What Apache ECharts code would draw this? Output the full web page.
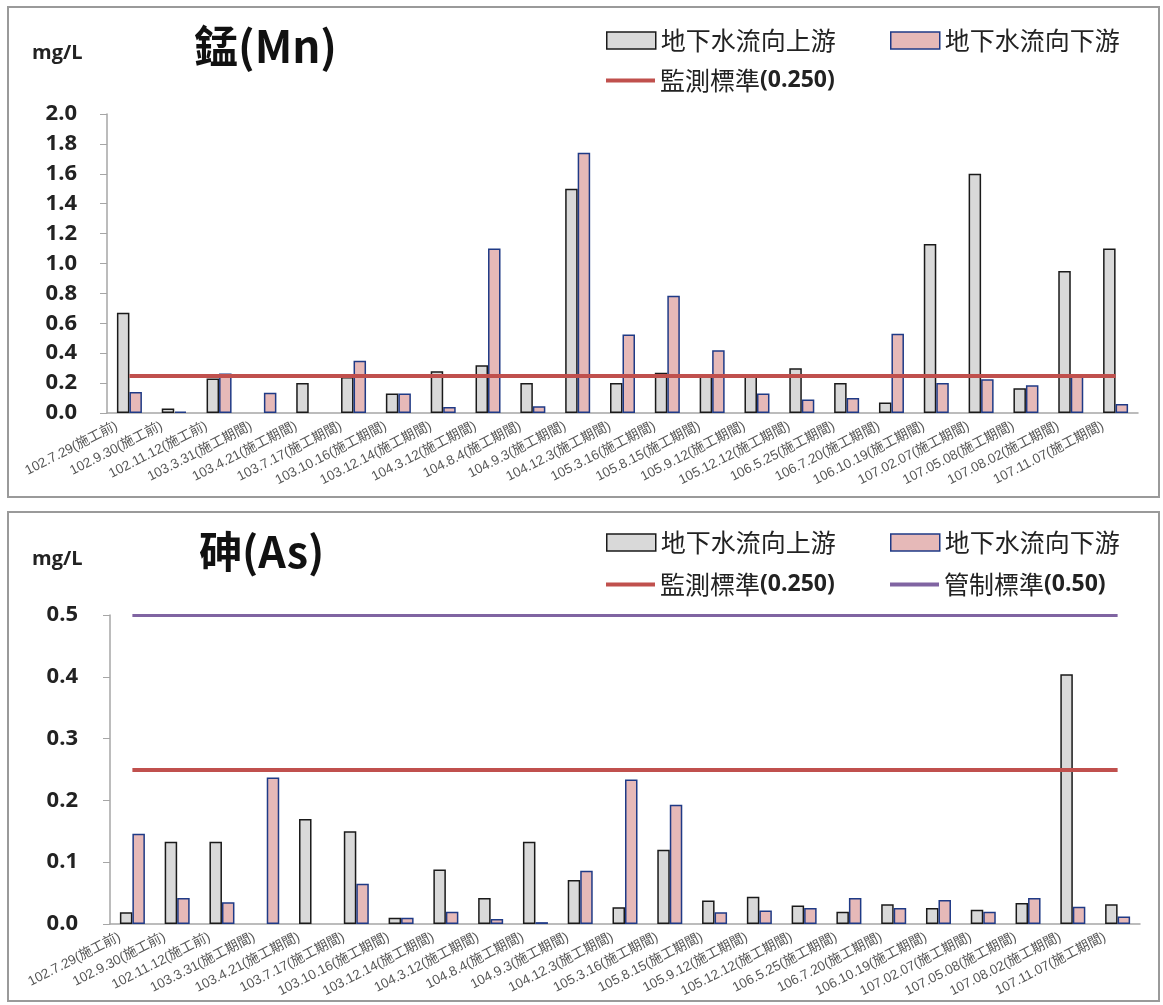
<!DOCTYPE html>
<html>
<head>
<meta charset="utf-8">
<script src="https://cdn.jsdelivr.net/npm/echarts@6/dist/echarts.min.js"></script>
<style>
  html, body { margin: 0; padding: 0; background: #fff; }
  #chart { width: 1163px; height: 1005px; }
</style>
</head>
<body>
<div id="chart"></div>
<script>
// sampling dates (same for both panels)
var categories = [
  '102.7.29(施工前)', '102.9.30(施工前)', '102.11.12(施工前)',
  '103.3.31(施工期間)', '103.4.21(施工期間)', '103.7.17(施工期間)',
  '103.10.16(施工期間)', '103.12.14(施工期間)', '104.3.12(施工期間)',
  '104.8.4(施工期間)', '104.9.3(施工期間)', '104.12.3(施工期間)',
  '105.3.16(施工期間)', '105.8.15(施工期間)', '105.9.12(施工期間)',
  '105.12.12(施工期間)', '106.5.25(施工期間)', '106.7.20(施工期間)',
  '106.10.19(施工期間)', '107.02.07(施工期間)', '107.05.08(施工期間)',
  '107.08.02(施工期間)', '107.11.07(施工期間)'
]

// 錳 (Mn) mg/L
var mnUpstream = [0.67, 0.03, 0.23, null, 0.20, 0.24, 0.13, 0.28, 0.32, 0.20, 1.50, 0.20,
  0.27, 0.245, 0.255, 0.30, 0.20, 0.07, 1.13, 1.60, 0.165, 0.95, 1.10]
var mnDownstream = [0.14, 0.01, 0.265, 0.135, null, 0.35, 0.13, 0.04, 1.10, 0.045, 1.74, 0.525,
  0.785, 0.42, 0.13, 0.09, 0.10, 0.53, 0.20, 0.225, 0.185, 0.245, 0.06]
var mnMonitorStd = 0.25

// 砷 (As) mg/L
var asUpstream = [0.019, 0.133, 0.133, null, 0.17, 0.15, 0.01, 0.088, 0.042, 0.133, 0.071, 0.027,
  0.12, 0.038, 0.044, 0.03, 0.02, 0.032, 0.026, 0.023, 0.034, 0.404, 0.032]
var asDownstream = [0.146, 0.042, 0.035, 0.237, null, 0.065, 0.01, 0.02, 0.008, 0.003, 0.086, 0.234,
  0.193, 0.019, 0.022, 0.026, 0.042, 0.026, 0.039, 0.02, 0.042, 0.028, 0.012]
var asMonitorStd = 0.25
var asControlStd = 0.5

var UP = '地下水流向上游'
var DOWN = '地下水流向下游'
var MON = '監測標準(0.250)'
var CTRL = '管制標準(0.50)'

var upStyle = { color: '#d9d9d9', borderColor: '#1a1a1a', borderWidth: 1.5 }
var downStyle = { color: '#e6b9b8', borderColor: '#1f3a86', borderWidth: 1.5 }
var redColor = '#c0504d'
var purpleColor = '#8064a2'

var numFont = '"Open Sans", "Noto Sans CJK TC", sans-serif'
var cjkFont = '"Noto Sans CJK TC", sans-serif'

function xAxisOf(grid) {
  return {
    type: 'category',
    gridIndex: grid,
    data: categories,
    axisLine: { lineStyle: { color: '#a6a6a6', width: 1.5 } },
    axisTick: { length: 5, lineStyle: { color: '#a6a6a6' } },
    axisLabel: {
      interval: 0,
      rotate: 27,
      margin: 6,
      padding: [0, 14, 0, 0],
      fontSize: 13.5,
      color: '#555',
      fontFamily: '"Liberation Sans", "Noto Sans CJK TC", sans-serif'
    }
  }
}

function yAxisOf(grid, max, step, margin) {
  return {
    type: 'value',
    gridIndex: grid,
    min: 0,
    max: max,
    interval: step,
    axisLine: { show: true, lineStyle: { color: '#a6a6a6', width: 1.5 } },
    axisTick: { show: true, length: 7, lineStyle: { color: '#a6a6a6' } },
    splitLine: { show: false },
    axisLabel: {
      margin: margin,
      fontSize: 22,
      fontWeight: 'bold',
      color: '#222',
      fontFamily: numFont,
      formatter: function (v) { return v.toFixed(1) }
    }
  }
}

function stdLine(name, grid, value, color, width) {
  return {
    name: name,
    type: 'line',
    xAxisIndex: grid,
    yAxisIndex: grid,
    data: [],
    symbol: 'none',
    color: color,
    markLine: {
      silent: true,
      symbol: ['none', 'none'],
      label: { show: false },
      lineStyle: { color: color, width: width, type: 'solid' },
      data: [[
        { coord: [categories[0], value] },
        { coord: [categories[categories.length - 1], value] }
      ]]
    }
  }
}

var legendText = {
  fontSize: 25,
  color: '#222',
  fontFamily: cjkFont,
  rich: {
    a: { fontSize: 25, color: '#222', fontFamily: cjkFont },
    b: { fontSize: 23, color: '#222', fontWeight: 'bold', fontFamily: numFont }
  }
}
function legendFmt(name) {
  var i = name.indexOf('(')
  if (i < 0) return '{a|' + name + '}'
  return '{a|' + name.slice(0, i) + '}{b|' + name.slice(i) + '}'
}

function legendItem(name, left, top, style, h) {
  return {
    data: [{ name: name, icon: 'rect' }],
    left: left,
    top: top,
    itemWidth: 49,
    itemHeight: h,
    itemGap: 0,
    selectedMode: false,
    padding: 0,
    itemStyle: style,
    textStyle: legendText,
    formatter: legendFmt
  }
}

var chart = echarts.init(document.getElementById('chart'))
chart.setOption({
  backgroundColor: '#fff',
  animation: false,
  grid: [
    { left: 107, top: 114, width: 1031, height: 299 },
    { left: 110, top: 615, width: 1030, height: 309 }
  ],
  xAxis: [xAxisOf(0), xAxisOf(1)],
  yAxis: [yAxisOf(0, 2, 0.2, 30), yAxisOf(1, 0.5, 0.1, 32)],
  legend: [
    legendItem(UP, 606, 28, upStyle, 17),
    legendItem(DOWN, 890, 28, downStyle, 17),
    legendItem(MON, 606, 68, { color: redColor, borderWidth: 0 }, 4),
    legendItem(UP, 606, 530, upStyle, 17),
    legendItem(DOWN, 890, 530, downStyle, 17),
    legendItem(MON, 606, 572, { color: redColor, borderWidth: 0 }, 4),
    legendItem(CTRL, 890, 572, { color: purpleColor, borderWidth: 0 }, 4)
  ],
  graphic: [
    { type: 'rect', shape: { x: 8, y: 7, width: 1151, height: 490 },
      style: { fill: 'none', stroke: '#9a9a9a', lineWidth: 2 } },
    { type: 'rect', shape: { x: 8, y: 512, width: 1151, height: 489 },
      style: { fill: 'none', stroke: '#9a9a9a', lineWidth: 2 } },
    { type: 'text', left: 32, top: 43,
      style: { text: 'mg/L', fill: '#222', font: 'bold 20px ' + numFont } },
    { type: 'text', left: 32, top: 549,
      style: { text: 'mg/L', fill: '#222', font: 'bold 20px ' + numFont } },
    { type: 'text', left: 194, top: 24,
      style: { text: '錳(Mn)', fill: '#111', font: 'bold 44px ' + cjkFont } },
    { type: 'text', left: 199, top: 530,
      style: { text: '砷(As)', fill: '#111', font: 'bold 43px ' + cjkFont } }
  ],
  series: [
    { name: UP, type: 'bar', xAxisIndex: 0, yAxisIndex: 0, data: mnUpstream,
      barWidth: 12.5, barGap: '0%', itemStyle: upStyle },
    { name: DOWN, type: 'bar', xAxisIndex: 0, yAxisIndex: 0, data: mnDownstream,
      barWidth: 12.5, barGap: '0%', itemStyle: downStyle },
    stdLine(MON, 0, mnMonitorStd, redColor, 4),
    { name: UP, type: 'bar', xAxisIndex: 1, yAxisIndex: 1, data: asUpstream,
      barWidth: 12.5, barGap: '0%', itemStyle: upStyle },
    { name: DOWN, type: 'bar', xAxisIndex: 1, yAxisIndex: 1, data: asDownstream,
      barWidth: 12.5, barGap: '0%', itemStyle: downStyle },
    stdLine(MON, 1, asMonitorStd, redColor, 4),
    stdLine(CTRL, 1, asControlStd, purpleColor, 3)
  ]
})
</script>
</body>
</html>
